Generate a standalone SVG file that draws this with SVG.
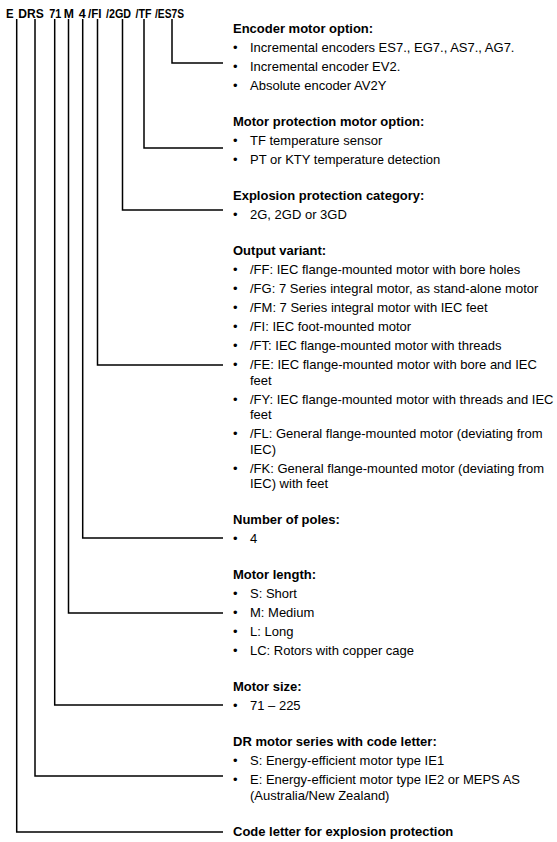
<svg xmlns="http://www.w3.org/2000/svg" width="557" height="842" viewBox="0 0 557 842">
<style>
text{font-family:"Liberation Sans",Arial,sans-serif;fill:#000}
.hdr{font-size:12px;font-weight:bold}
.h{font-size:13px;font-weight:bold}
.t{font-size:13px}
.c{fill:none;stroke:#000;stroke-width:1.5}
</style>
<rect width="557" height="842" fill="#fff"/>
<g id="typecode">
<text class="hdr" y="18" x="6" textLength="7.6" lengthAdjust="spacingAndGlyphs">E</text>
<text class="hdr" y="18" x="18.3" textLength="25.5" lengthAdjust="spacingAndGlyphs">DRS</text>
<text class="hdr" y="18" x="49.3" textLength="12" lengthAdjust="spacingAndGlyphs">71</text>
<text class="hdr" y="18" x="63.8" textLength="10.2" lengthAdjust="spacingAndGlyphs">M</text>
<text class="hdr" y="18" x="78.7" textLength="7" lengthAdjust="spacingAndGlyphs">4</text>
<text class="hdr" y="18" x="88" textLength="13.5" lengthAdjust="spacingAndGlyphs">/FI</text>
<text class="hdr" y="18" x="106" textLength="25" lengthAdjust="spacingAndGlyphs">/2GD</text>
<text class="hdr" y="18" x="135.5" textLength="16" lengthAdjust="spacingAndGlyphs">/TF</text>
<text class="hdr" y="18" x="155" textLength="29" lengthAdjust="spacingAndGlyphs">/ES7S</text>
</g>
<g id="connectors">
<polyline class="c" points="172,19 172,63 223,63"/>
<polyline class="c" points="144,19 144,148 223,148"/>
<polyline class="c" points="122.5,19 122.5,210 223,210"/>
<polyline class="c" points="97.5,19 97.5,365 223,365"/>
<polyline class="c" points="82.7,19 82.7,538 223,538"/>
<polyline class="c" points="68.5,19 68.5,613 223,613"/>
<polyline class="c" points="54.7,19 54.7,705 223,705"/>
<polyline class="c" points="35,19 35,776 223,776"/>
<polyline class="c" points="16.7,19 16.7,832 223,832"/>
</g>
<g id="encoder">
<text class="h" x="233" y="33">Encoder motor option:</text>
<text class="t" x="233" y="52">•</text><text class="t" x="250" y="52">Incremental encoders ES7., EG7., AS7., AG7.</text>
<text class="t" x="233" y="71">•</text><text class="t" x="250" y="71">Incremental encoder EV2.</text>
<text class="t" x="233" y="90">•</text><text class="t" x="250" y="90">Absolute encoder AV2Y</text>
</g>
<g id="motor-protection">
<text class="h" x="233" y="126">Motor protection motor option:</text>
<text class="t" x="233" y="145">•</text><text class="t" x="250" y="145">TF temperature sensor</text>
<text class="t" x="233" y="164">•</text><text class="t" x="250" y="164">PT or KTY temperature detection</text>
</g>
<g id="explosion-category">
<text class="h" x="233" y="200">Explosion protection category:</text>
<text class="t" x="233" y="219">•</text><text class="t" x="250" y="219">2G, 2GD or 3GD</text>
</g>
<g id="output-variant">
<text class="h" x="233" y="255">Output variant:</text>
<text class="t" x="233" y="274">•</text><text class="t" x="250" y="274">/FF: IEC flange-mounted motor with bore holes</text>
<text class="t" x="233" y="293">•</text><text class="t" x="250" y="293">/FG: 7 Series integral motor, as stand-alone motor</text>
<text class="t" x="233" y="312">•</text><text class="t" x="250" y="312">/FM: 7 Series integral motor with IEC feet</text>
<text class="t" x="233" y="331">•</text><text class="t" x="250" y="331">/FI: IEC foot-mounted motor</text>
<text class="t" x="233" y="350">•</text><text class="t" x="250" y="350">/FT: IEC flange-mounted motor with threads</text>
<text class="t" x="233" y="369">•</text><text class="t" x="250" y="369">/FE: IEC flange-mounted motor with bore and IEC</text>
<text class="t" x="250" y="384.5">feet</text>
<text class="t" x="233" y="403.5">•</text><text class="t" x="250" y="403.5">/FY: IEC flange-mounted motor with threads and IEC</text>
<text class="t" x="250" y="419">feet</text>
<text class="t" x="233" y="438">•</text><text class="t" x="250" y="438">/FL: General flange-mounted motor (deviating from</text>
<text class="t" x="250" y="453.5">IEC)</text>
<text class="t" x="233" y="472.5">•</text><text class="t" x="250" y="472.5">/FK: General flange-mounted motor (deviating from</text>
<text class="t" x="250" y="488">IEC) with feet</text>
</g>
<g id="poles">
<text class="h" x="233" y="524">Number of poles:</text>
<text class="t" x="233" y="543">•</text><text class="t" x="250" y="543">4</text>
</g>
<g id="motor-length">
<text class="h" x="233" y="579">Motor length:</text>
<text class="t" x="233" y="598">•</text><text class="t" x="250" y="598">S: Short</text>
<text class="t" x="233" y="617">•</text><text class="t" x="250" y="617">M: Medium</text>
<text class="t" x="233" y="636">•</text><text class="t" x="250" y="636">L: Long</text>
<text class="t" x="233" y="655">•</text><text class="t" x="250" y="655">LC: Rotors with copper cage</text>
</g>
<g id="motor-size">
<text class="h" x="233" y="691">Motor size:</text>
<text class="t" x="233" y="710">•</text><text class="t" x="250" y="710">71 – 225</text>
</g>
<g id="motor-series">
<text class="h" x="233" y="746">DR motor series with code letter:</text>
<text class="t" x="233" y="765">•</text><text class="t" x="250" y="765">S: Energy-efficient motor type IE1</text>
<text class="t" x="233" y="784">•</text><text class="t" x="250" y="784">E: Energy-efficient motor type IE2 or MEPS AS</text>
<text class="t" x="250" y="799.5">(Australia/New Zealand)</text>
</g>
<g id="code-letter">
<text class="h" x="233" y="836">Code letter for explosion protection</text>
</g>
</svg>
